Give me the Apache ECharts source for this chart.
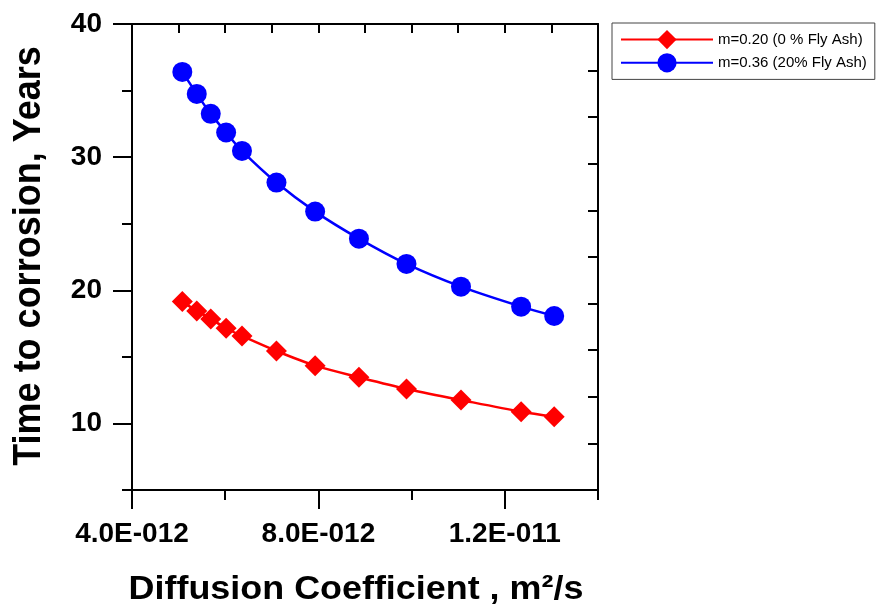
<!DOCTYPE html>
<html>
<head>
<meta charset="utf-8">
<script src="https://cdn.jsdelivr.net/npm/echarts@6/dist/echarts.min.js"></script>
<style>html,body{margin:0;padding:0;background:#fff}#main{width:877px;height:610px}</style>
</head>
<body>
<div id="main"></div>
<script>
// Diffusion coefficient in units of 1e-12 m^2/s
var diffusion = [5.08, 5.39, 5.69, 6.02, 6.36, 7.10, 7.93, 8.87, 9.89, 11.06, 12.35, 13.06];
var fa0Years  = [19.15, 18.45, 17.85, 17.15, 16.57, 15.44, 14.34, 13.47, 12.59, 11.76, 10.88, 10.51];
var fa20Years = [36.4, 34.75, 33.25, 31.85, 30.47, 28.09, 25.91, 23.88, 21.98, 20.27, 18.77, 18.07];
var seriesNames = ['m=0.20 (0 % Fly Ash)', 'm=0.36 (20% Fly Ash)'];
var xTickLabels = {4: '4.0E-012', 8: '8.0E-012', 12: '1.2E-011'};
var yTickLabels = [10, 20, 30, 40];
var xTitle = 'Diffusion Coefficient , m\u00B2/s';
var yTitle = 'Time to corrosion, Years';

var FONT = '"Liberation Sans", Arial, sans-serif';
function pairs(xs, ys) { return xs.map(function (x, i) { return [x, ys[i]]; }); }

var chart = echarts.init(document.getElementById('main'), null, {renderer: 'canvas'});
var lineBlack = {show: true, lineStyle: {color: '#000', width: 2}};
chart.setOption({
  animation: false,
  backgroundColor: '#fff',
  grid: {left: 132, top: 24, right: 279, bottom: 120, containLabel: false},
  xAxis: [
    {type: 'value', position: 'bottom', min: 4, max: 14, interval: 2, offset: 0,
     axisLine: lineBlack, splitLine: {show: false},
     axisTick: {show: true, customValues: [4, 8, 12], length: 19, lineStyle: {color: '#000', width: 2}},
     axisLabel: {show: true, customValues: [4, 8, 12], margin: 30, color: '#000', fontFamily: FONT, fontWeight: 'bold', fontSize: 28,
       formatter: function (v) { return xTickLabels[Math.round(v)] || ''; }}},
    {type: 'value', position: 'bottom', min: 4, max: 14, offset: 0,
     axisLine: {show: false}, splitLine: {show: false},
     axisTick: {show: true, customValues: [6, 10, 14], length: 10, lineStyle: {color: '#000', width: 2}},
     axisLabel: {show: false}},
    {type: 'value', position: 'top', min: 4, max: 14, interval: 1, offset: 0,
     axisLine: lineBlack, splitLine: {show: false},
     axisTick: {show: true, inside: true, length: 9, lineStyle: {color: '#000', width: 2}},
     axisLabel: {show: false}}
  ],
  yAxis: [
    {type: 'value', position: 'left', min: 5, max: 40, interval: 5, offset: 0,
     axisLine: lineBlack, splitLine: {show: false},
     axisTick: {show: true, customValues: yTickLabels, length: 19, lineStyle: {color: '#000', width: 2}},
     axisLabel: {show: true, customValues: yTickLabels, margin: 30, color: '#000', fontFamily: FONT, fontWeight: 'bold', fontSize: 28}},
    {type: 'value', position: 'left', min: 5, max: 40, offset: 0,
     axisLine: {show: false}, splitLine: {show: false},
     axisTick: {show: true, customValues: [5, 15, 25, 35], length: 10, lineStyle: {color: '#000', width: 2}},
     axisLabel: {show: false}},
    {type: 'value', position: 'right', min: 0, max: 10, interval: 1, offset: 0,
     axisLine: lineBlack, splitLine: {show: false},
     axisTick: {show: true, inside: true, length: 10, lineStyle: {color: '#000', width: 2}},
     axisLabel: {show: false}}
  ],
  legend: {
    orient: 'vertical', left: 612, top: 23,
    itemWidth: 92, itemHeight: 24, itemGap: 4,
    padding: [7, 8, 7, 8],
    borderColor: '#444', borderWidth: 1, borderRadius: 0,
    textStyle: {color: '#000', fontFamily: FONT, fontSize: 15},
    data: seriesNames
  },
  series: [
    {name: seriesNames[0], type: 'line', xAxisIndex: 0, yAxisIndex: 0, data: pairs(diffusion, fa0Years),
     symbol: 'diamond', symbolSize: 21, smooth: 0.3,
     lineStyle: {color: '#ff0000', width: 2.5}, itemStyle: {color: '#ff0000'}},
    {name: seriesNames[1], type: 'line', xAxisIndex: 0, yAxisIndex: 0, data: pairs(diffusion, fa20Years),
     symbol: 'circle', symbolSize: 20, smooth: 0.3,
     lineStyle: {color: '#0000ff', width: 2.5}, itemStyle: {color: '#0000ff'}}
  ],
  graphic: [
    {type: 'text', x: 356, y: 590, scaleX: 1.088,
     style: {text: xTitle, fill: '#000', font: 'bold 33px ' + FONT, textAlign: 'center', textVerticalAlign: 'middle'}},
    {type: 'text', x: 29, y: 256, rotation: Math.PI / 2, scaleY: 1.08,
     style: {text: yTitle, fill: '#000', font: 'bold 36px ' + FONT, textAlign: 'center', textVerticalAlign: 'middle'}}
  ]
});
</script>
</body>
</html>
